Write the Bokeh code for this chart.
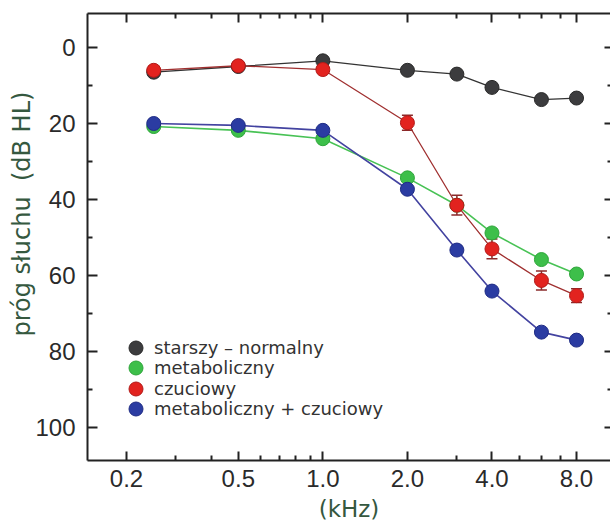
from bokeh.plotting import figure
from bokeh.models import (Range1d, FixedTicker, NumeralTickFormatter, LogAxis, LinearAxis,
                          Legend, LegendItem, ColumnDataSource, Whisker, TeeHead,
                          CustomLabelingPolicy)
from bokeh.embed import file_html
from bokeh.resources import INLINE

# ---- data ----
freq_khz = [0.25, 0.5, 1.0, 2.0, 3.0, 4.0, 6.0, 8.0]
starszy_normalny = [6.5, 5.0, 3.5, 6.0, 7.0, 10.5, 13.7, 13.3]
metaboliczny = [20.8, 21.8, 24.0, 34.3, 41.5, 48.8, 55.8, 59.6]
czuciowy = [6.0, 4.8, 5.8, 19.8, 41.5, 53.0, 61.3, 65.3]
czuciowy_err = [1.0, 1.0, 1.0, 2.0, 2.6, 2.6, 2.5, 1.8]
metab_czuciowy = [20.0, 20.5, 21.8, 37.3, 53.3, 64.1, 74.9, 77.0]

series_labels = ["starszy – normalny", "metaboliczny", "czuciowy", "metaboliczny + czuciowy"]

x_major_ticks = [0.2, 0.5, 1.0, 2.0, 4.0, 8.0]
x_minor_ticks = [0.3, 0.4, 0.6, 0.7, 0.8, 0.9, 3.0, 5.0, 6.0, 7.0]
y_major_ticks = [0, 20, 40, 60, 80, 100]
y_minor_ticks = [10, 30, 50, 70, 90]

x_label = "(kHz)"
y_label = "próg słuchu\u00a0\u00a0(dB HL)"

# ---- styles ----
LABEL_GREEN = "#35583f"
AXIS_COLOR = "#222222"
TICK_FONT = "Liberation Sans"
TICK_SIZE = "24px"

styles = [
    dict(fill="#3c3c3e", line="#2a2a2a", conn="#333333", conn_w=1.3),
    dict(fill="#3dbf4a", line="#2ea53a", conn="#48c255", conn_w=1.6),
    dict(fill="#e2231f", line="#b21a18", conn="#a03030", conn_w=1.3),
    dict(fill="#2b3ca2", line="#1f2c85", conn="#4343a0", conn_w=1.6),
]

p = figure(width=610, height=525, x_axis_type="log",
           x_range=Range1d(0.14524, 10.569), y_range=Range1d(108.68, -8.95),
           output_backend="svg", toolbar_location=None,
           min_border_left=87, min_border_top=13, min_border_bottom=65, min_border_right=0)
p.outline_line_color = None
p.xgrid.visible = False
p.ygrid.visible = False
p.background_fill_color = "white"
p.border_fill_color = "white"

xticker = FixedTicker(ticks=x_major_ticks, minor_ticks=x_minor_ticks)
yticker = FixedTicker(ticks=y_major_ticks, minor_ticks=y_minor_ticks)


def style_axis(ax, major_in, minor_in, line=True):
    ax.major_tick_in = major_in
    ax.major_tick_out = 0
    ax.minor_tick_in = minor_in
    ax.minor_tick_out = 0
    ax.major_tick_line_width = 2
    ax.minor_tick_line_width = 2
    ax.major_tick_line_color = AXIS_COLOR
    ax.minor_tick_line_color = AXIS_COLOR
    if line:
        ax.axis_line_width = 2
        ax.axis_line_color = AXIS_COLOR
    else:
        ax.axis_line_color = None


def hide_labels(ax):
    ax.major_label_text_font_size = "0px"
    ax.major_label_standoff = 0
    ax.major_label_policy = CustomLabelingPolicy(code="return []")


# bottom axis
xa = p.xaxis[0]
xa.ticker = xticker
xa.formatter = NumeralTickFormatter(format="0.0")
style_axis(xa, 9, 5)
xa.major_label_text_font = TICK_FONT
xa.major_label_text_font_size = TICK_SIZE
xa.major_label_text_color = "#2a2a2a"
xa.major_label_standoff = 9
xa.axis_label = x_label
xa.axis_label_text_font = "DejaVu Sans"
xa.axis_label_text_font_size = "23px"
xa.axis_label_text_font_style = "normal"
xa.axis_label_text_color = LABEL_GREEN
xa.axis_label_standoff = 6

# left axis
ya = p.yaxis[0]
ya.ticker = yticker
style_axis(ya, 10, 5)
ya.major_label_text_font = TICK_FONT
ya.major_label_text_font_size = TICK_SIZE
ya.major_label_text_color = "#2a2a2a"
ya.major_label_standoff = 12
ya.axis_label = "\u00a0" * 6 + y_label
ya.axis_label_text_font = "DejaVu Sans"
ya.axis_label_text_font_size = "24px"
ya.axis_label_text_font_style = "normal"
ya.axis_label_text_color = LABEL_GREEN
ya.axis_label_standoff = -4

# top axis (ticks only)
top = LogAxis(ticker=xticker)
style_axis(top, 9, 5)
hide_labels(top)
p.add_layout(top, "above")

# right axis (ticks only, no line)
right = LinearAxis(ticker=yticker)
style_axis(right, 6, 3, line=False)
hide_labels(right)
p.add_layout(right, "right")

# error bars for "czuciowy"
err_src = ColumnDataSource(dict(
    x=freq_khz,
    upper=[v + e for v, e in zip(czuciowy, czuciowy_err)],
    lower=[v - e for v, e in zip(czuciowy, czuciowy_err)],
))
wh = Whisker(base="x", upper="upper", lower="lower", source=err_src,
             line_color="#8a2a2a", line_width=1.5,
             upper_head=TeeHead(size=11, line_color="#8a2a2a", line_width=1.5),
             lower_head=TeeHead(size=11, line_color="#8a2a2a", line_width=1.5),
             level="underlay")
p.add_layout(wh)

all_series = [starszy_normalny, metaboliczny, czuciowy, metab_czuciowy]
marker_renderers = []
for vals, st in zip(all_series, styles):
    p.line(freq_khz, vals, line_color=st["conn"], line_width=st["conn_w"])
for vals, st in zip(all_series, styles):
    r = p.scatter(freq_khz, vals, size=14, marker="circle",
                  fill_color=st["fill"], line_color=st["line"], line_width=1)
    marker_renderers.append(r)

# one small legend per entry, stacked 20.4 px apart
LEG_X, LEG_TOP_Y, LEG_STEP = 31, 95, 20.4
for i, (lab, r) in enumerate(zip(series_labels, marker_renderers)):
    leg = Legend(
        items=[LegendItem(label=lab, renderers=[r])],
        location=(LEG_X, round(LEG_TOP_Y - i * LEG_STEP)),
        glyph_width=35, glyph_height=35, spacing=0,
        padding=0, margin=0, label_standoff=1,
        border_line_color=None, background_fill_alpha=0,
        label_text_font="DejaVu Sans", label_text_font_size="18px",
        label_text_color="#333333",
    )
    p.add_layout(leg)

open("out.html", "w").write(file_html(p, INLINE))
